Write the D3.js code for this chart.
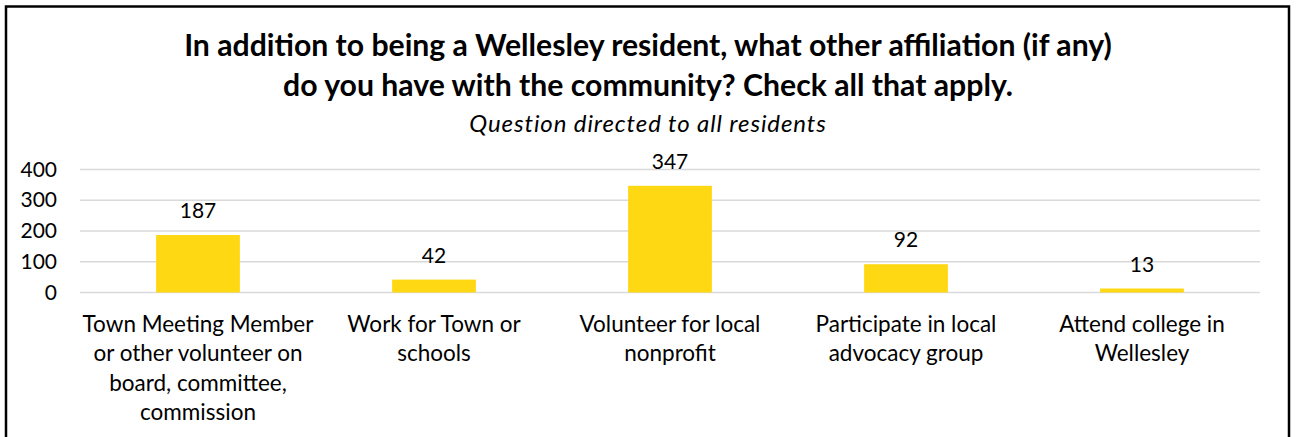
<!DOCTYPE html>
<html>
<head>
<meta charset="utf-8">
<script src="https://cdn.jsdelivr.net/npm/d3@7"></script>
<style>
  html, body { margin: 0; padding: 0; background: #fff; }
  svg { display: block; }
  text { font-family: Lato, "Open Sans", sans-serif; fill: #000; }
</style>
</head>
<body>
<svg id="chart" width="1297" height="437"></svg>
<script>
// Survey responses: other affiliations of Wellesley residents
const categories = [
  ["Town Meeting Member", "or other volunteer on", "board, committee,", "commission"],
  ["Work for Town or", "schools"],
  ["Volunteer for local", "nonprofit"],
  ["Participate in local", "advocacy group"],
  ["Attend college in", "Wellesley"]
];
const values = [187, 42, 347, 92, 13];
const yTicks = [0, 100, 200, 300, 400];
const titleLines = [
  "In addition to being a Wellesley resident, what other affiliation (if any)",
  "do you have with the community? Check all that apply."
];
const subtitle = "Question directed to all residents";

const W = 1297, H = 437;
const svg = d3.select("#chart");

// chart frame
svg.append("rect")
  .attr("x", 6).attr("y", 6.5)
  .attr("width", 1283).attr("height", H + 20)
  .attr("fill", "#fff").attr("stroke", "#000").attr("stroke-width", 2.5);

const plot = { left: 80, right: 1260, top: 169.5, bottom: 292.5 };

const x = d3.scaleBand()
  .domain(d3.range(categories.length))
  .range([plot.left, plot.right])
  .paddingInner(0.645).paddingOuter(0.3225);

const y = d3.scaleLinear().domain([0, 400]).range([plot.bottom, plot.top]);

// title block
const title = svg.append("g").attr("text-anchor", "middle");
title.selectAll("text.t").data(titleLines).join("text")
  .attr("class", "t")
  .attr("x", 648).attr("y", (d, i) => 56 + i * 40)
  .attr("font-size", 30.2).attr("font-weight", 700)
  .text(d => d);
title.append("text")
  .attr("x", 648).attr("y", 131.5)
  .attr("font-size", 24).attr("font-style", "italic")
  .attr("letter-spacing", 0.9)
  .text(subtitle);

// horizontal gridlines
svg.append("g")
  .selectAll("line").data(yTicks).join("line")
  .attr("x1", plot.left).attr("x2", plot.right)
  .attr("y1", d => y(d)).attr("y2", d => y(d))
  .attr("stroke", "#d9d9d9").attr("stroke-width", 1.5);

// y axis labels
const yAxis = d3.axisLeft(y).tickValues(yTicks).tickSize(0).tickPadding(0);
const yg = svg.append("g").attr("transform", "translate(57,0)").call(yAxis);
yg.select(".domain").remove();
yg.selectAll("text")
  .attr("font-size", 21).attr("font-family", "Lato, sans-serif").attr("fill", "#000");

// bars
svg.append("g")
  .selectAll("rect").data(values).join("rect")
  .attr("x", (d, i) => x(i))
  .attr("width", x.bandwidth())
  .attr("y", d => y(d))
  .attr("height", d => y(0) - y(d))
  .attr("fill", "#ffd814");

// value labels
svg.append("g").attr("text-anchor", "middle")
  .selectAll("text").data(values).join("text")
  .attr("x", (d, i) => x(i) + x.bandwidth() / 2)
  .attr("y", d => y(d) - 17)
  .attr("font-size", 21)
  .text(d => d);

// category labels (wrapped)
const cat = svg.append("g").attr("text-anchor", "middle");
categories.forEach((lines, i) => {
  const t = cat.append("text")
    .attr("x", x(i) + x.bandwidth() / 2)
    .attr("y", 332)
    .attr("font-size", 22.5);
  lines.forEach((ln, j) => {
    t.append("tspan")
      .attr("x", x(i) + x.bandwidth() / 2)
      .attr("y", 332 + j * 29.3)
      .text(ln);
  });
});
</script>
</body>
</html>
